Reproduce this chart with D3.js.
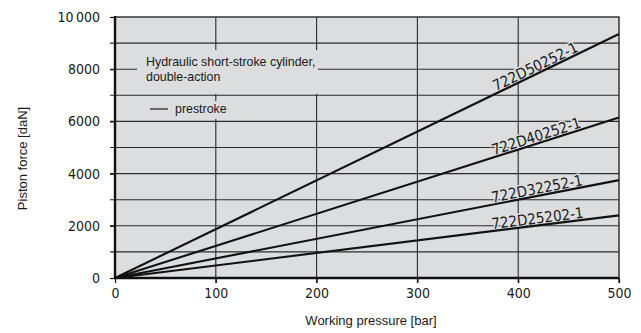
<!DOCTYPE html>
<html>
<head>
<meta charset="utf-8">
<script src="https://cdn.jsdelivr.net/npm/d3@7"></script>
<style>
  html, body { margin: 0; padding: 0; background: #fff; }
  svg { display: block; }
</style>
</head>
<body>
<svg id="chart" width="641" height="333"></svg>
<script>
// Working pressure (bar) sampled at the ends of each straight characteristic
const pressure = [0, 500];

// Piston force (daN) for each cylinder
const seriesNames = ["722D50252-1", "722D40252-1", "722D32252-1", "722D25202-1"];
const force50 = [0, 9350];
const force40 = [0, 6150];
const force32 = [0, 3750];
const force25 = [0, 2400];
const seriesForces = [force50, force40, force32, force25];

// Axis ticks and labels
const xTicks = [0, 100, 200, 300, 400, 500];
const yTicks = [0, 1000, 2000, 3000, 4000, 5000, 6000, 7000, 8000, 9000, 10000];
const yLabelTicks = [0, 2000, 4000, 6000, 8000, 10000];
const yLabelText = ["0", "2000", "4000", "6000", "8000", "10\u2009000"];

const legendLines = ["Hydraulic short-stroke cylinder,", "double-action"];
const legendKey = "prestroke";
const labelPressure = 420;

const svg = d3.select("#chart");
const plotL = 115, plotR = 619, plotT = 17, plotB = 278;
const bg = "#dcdddf";
const numFont = "'DejaVu Sans Condensed', 'DejaVu Sans', sans-serif";
const textFont = "'Liberation Sans', Arial, sans-serif";

const x = d3.scaleLinear().domain([0, 500]).range([plotL, plotR]);
const y = d3.scaleLinear().domain([0, 10000]).range([plotB, plotT]);

// plot background
svg.append("rect")
  .attr("x", plotL).attr("y", plotT)
  .attr("width", plotR - plotL).attr("height", plotB - plotT)
  .attr("fill", bg);

// horizontal grid (extends left as tick marks)
svg.append("g")
  .selectAll("line")
  .data(yTicks.slice(1, -1))
  .join("line")
  .attr("x1", plotL - 5).attr("x2", plotR)
  .attr("y1", d => y(d)).attr("y2", d => y(d))
  .attr("stroke", "#2a2a2a").attr("stroke-width", 1.1);

// vertical grid
svg.append("g")
  .selectAll("line")
  .data(xTicks.slice(1, -1))
  .join("line")
  .attr("x1", d => x(d)).attr("x2", d => x(d))
  .attr("y1", plotT).attr("y2", plotB + 5)
  .attr("stroke", "#2a2a2a").attr("stroke-width", 1.1);

// top and right frame
svg.append("line").attr("x1", plotL).attr("x2", plotR + 0.5)
  .attr("y1", plotT).attr("y2", plotT)
  .attr("stroke", "#333").attr("stroke-width", 1.5);
svg.append("line").attr("x1", plotR).attr("x2", plotR)
  .attr("y1", plotT).attr("y2", plotB + 5)
  .attr("stroke", "#333").attr("stroke-width", 1.5);

// y tick labels
const yAxis = d3.axisLeft(y)
  .tickValues(yLabelTicks)
  .tickSize(5)
  .tickPadding(10)
  .tickFormat((d, i) => yLabelText[i]);
const gy = svg.append("g").attr("transform", `translate(${plotL},0)`).call(yAxis);
gy.select(".domain").remove();
gy.selectAll(".tick line").attr("stroke", "#111").attr("stroke-width", 1.2);
gy.selectAll(".tick text")
  .attr("font-family", numFont).attr("font-size", 14)
  .attr("fill", "#1a1a1a");

// x tick labels
const xAxis = d3.axisBottom(x).tickValues(xTicks).tickSize(5).tickPadding(5);
const gx = svg.append("g").attr("transform", `translate(0,${plotB})`).call(xAxis);
gx.select(".domain").remove();
gx.selectAll(".tick line").attr("stroke", "#111").attr("stroke-width", 1.2);
gx.selectAll(".tick text")
  .attr("font-family", numFont).attr("font-size", 14)
  .attr("fill", "#1a1a1a");

// legend panels mask the grid behind the notes
svg.append("rect").attr("x", 137).attr("y", 50).attr("width", 181).attr("height", 44).attr("fill", bg);
svg.append("rect").attr("x", 144).attr("y", 101).attr("width", 92).attr("height", 18).attr("fill", bg);

svg.append("g")
  .selectAll("text")
  .data(legendLines)
  .join("text")
  .attr("x", 146)
  .attr("y", (d, i) => 66 + i * 14.5)
  .attr("font-family", textFont).attr("font-size", 12.4)
  .attr("fill", "#1a1a1a")
  .text(d => d);

svg.append("line").attr("x1", 150).attr("x2", 168)
  .attr("y1", 109).attr("y2", 109)
  .attr("stroke", "#1a1a1a").attr("stroke-width", 1.2);
svg.append("text").attr("x", 175).attr("y", 113)
  .attr("font-family", textFont).attr("font-size", 12.4)
  .attr("fill", "#1a1a1a")
  .text(legendKey);

// series labels laid along each line
const line = d3.line().x(d => x(d[0])).y(d => y(d[1]));
const series = seriesNames.map((name, i) => ({
  name,
  points: pressure.map((p, j) => [p, seriesForces[i][j]])
}));

svg.append("g")
  .selectAll("text")
  .data(series)
  .join("text")
  .attr("transform", d => {
    const [p0, p1] = d.points;
    const f = p0[1] + (p1[1] - p0[1]) * (labelPressure - p0[0]) / (p1[0] - p0[0]);
    const ang = Math.atan2(y(p1[1]) - y(p0[1]), x(p1[0]) - x(p0[0])) * 180 / Math.PI;
    return `translate(${x(labelPressure)},${y(f)}) rotate(${ang}) translate(0,-2)`;
  })
  .attr("text-anchor", "middle")
  .attr("font-family", numFont).attr("font-size", 15)
  .attr("fill", "#1a1a1a")
  .attr("stroke", bg).attr("stroke-width", 3).attr("paint-order", "stroke")
  .text(d => d.name);

// characteristic lines
svg.append("g")
  .selectAll("path")
  .data(series)
  .join("path")
  .attr("d", d => line(d.points))
  .attr("fill", "none")
  .attr("stroke", "#111").attr("stroke-width", 2.1);

// left and bottom axis lines
svg.append("line").attr("x1", plotL).attr("x2", plotL)
  .attr("y1", plotT - 1).attr("y2", plotB + 1)
  .attr("stroke", "#111").attr("stroke-width", 2.4);
svg.append("line").attr("x1", plotL - 1).attr("x2", plotR)
  .attr("y1", plotB).attr("y2", plotB)
  .attr("stroke", "#111").attr("stroke-width", 2.4);

// axis titles
svg.append("text")
  .attr("x", (plotL + plotR) / 2 + 4).attr("y", 325)
  .attr("text-anchor", "middle")
  .attr("font-family", textFont).attr("font-size", 13)
  .attr("fill", "#1a1a1a")
  .text("Working pressure [bar]");

svg.append("text")
  .attr("transform", "translate(27,158.5) rotate(-90)")
  .attr("text-anchor", "middle")
  .attr("font-family", textFont).attr("font-size", 13)
  .attr("fill", "#1a1a1a")
  .text("Piston force [daN]");
</script>
</body>
</html>
